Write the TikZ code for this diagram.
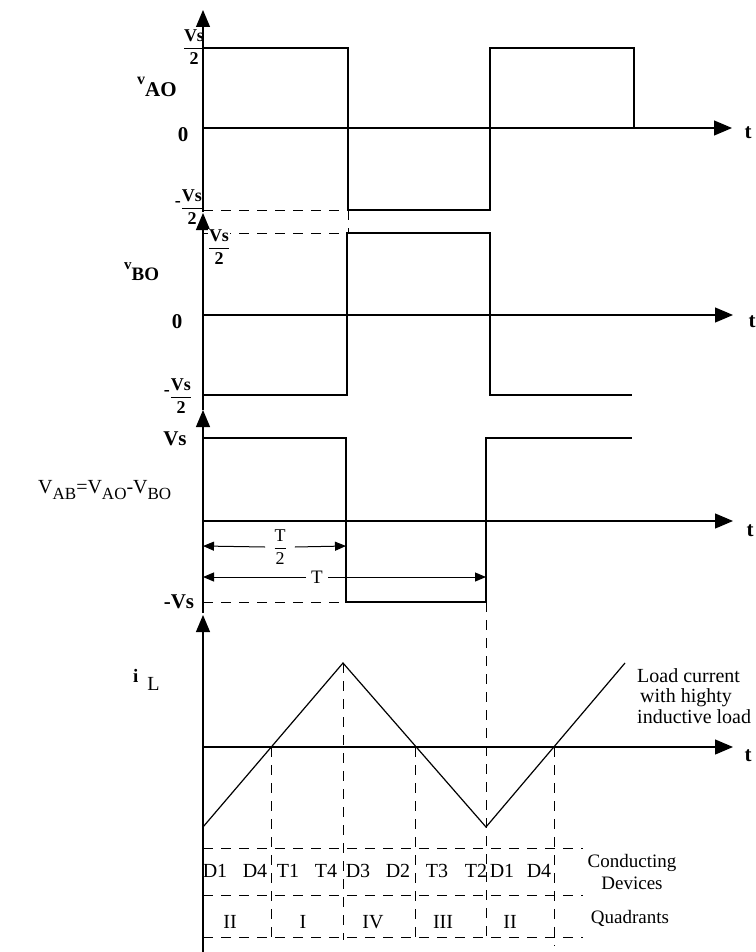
\documentclass[tikz,border=0pt]{standalone}
\usepackage{amsmath}
\usepackage{fontspec}
\setmainfont{Liberation Serif}
\usetikzlibrary{arrows.meta}
\newcommand{\fsz}[1]{\fontsize{#1}{#1}\selectfont}
\newcommand{\lowsub}[1]{\raisebox{-6pt}{\fsz{17}#1}}
\begin{document}
\begin{tikzpicture}[x=1pt,y=-1pt,
  sig/.style={line width=1.2pt, line join=miter},
  dsh/.style={line width=1pt, dash pattern=on 10pt off 8pt},
  vaxis/.style={line width=1.2pt, -{Triangle[length=17pt,width=14pt]}},
  haxis/.style={line width=1.2pt, -{Triangle[length=18pt,width=15pt]}},
  dimarr/.style={line width=1pt, -{Triangle[length=11pt,width=9pt]}},
  txt/.style={font=\fsz{20}, inner sep=0pt},
  btxt/.style={font=\fsz{21}\bfseries, inner sep=0pt},
  fracl/.style={font=\fsz{18}\bfseries, inner sep=0pt},
]
\useasboundingbox (0,0) rectangle (755,952);

% ---------- coordinates ----------
\coordinate (A1b) at (203,212); \coordinate (A1t) at (203,10);
\coordinate (A2b) at (203,410); \coordinate (A2t) at (203,213);
\coordinate (A3b) at (203,613); \coordinate (A3t) at (203,410);
\coordinate (A4b) at (203,952); \coordinate (A4t) at (203,615);
\coordinate (Z1) at (203,128); \coordinate (Z1e) at (732,128);
\coordinate (Z2) at (203,315); \coordinate (Z2e) at (733,315);
\coordinate (Z3) at (203,521); \coordinate (Z3e) at (733,521);
\coordinate (Z4) at (203,747); \coordinate (Z4e) at (733,747);

% ---------- plot 1 : v_AO ----------
\draw[vaxis] (A1b) -- (A1t);
\draw[haxis] (Z1) -- (Z1e);
\draw[sig] (203,48) -- (348,48) -- (348,210) -- (490,210) -- (490,48) -- (634,48) -- (634,128);
\draw[dsh] (203,210) -- (348,210);
\draw[dsh] (348,210) -- (348,233);
\node[btxt, anchor=base west] (vao) at (137,97) {\raisebox{12pt}{\fsz{16}v}AO};
\node[btxt] (z1) at (183,135) {0};
\node[fracl] (p1) at (194,47) {$\dfrac{\textbf{Vs}}{\textbf{2}}$};
\node[fracl] (m1) at (189,207) {\raisebox{6pt}{-}$\dfrac{\textbf{Vs}}{\textbf{2}}$};
\node[btxt] (t1) at (748,133) {t};

% ---------- plot 2 : v_BO ----------
\draw[vaxis] (A2b) -- (A2t);
\draw[haxis] (Z2) -- (Z2e);
\draw[sig] (203,395) -- (347,395) -- (347,233) -- (490,233) -- (490,395) -- (632,395);
\draw[dsh] (203,233) -- (347,233);
\node[btxt, anchor=base west] (vbo) at (124,280) {\raisebox{11pt}{\fsz{15}v}\fsz{19}BO};
\node[btxt] (z2) at (177,322) {0};
\node[fracl, fill=white] (p2) at (219,247) {$\dfrac{\textbf{Vs}}{\textbf{2}}$};
\node[fracl] (m2) at (178,396) {\raisebox{6pt}{-}$\dfrac{\textbf{Vs}}{\textbf{2}}$};
\node[btxt] (t2) at (752,322) {t};

% ---------- plot 3 : v_AB ----------
\draw[vaxis] (A3b) -- (A3t);
\draw[haxis] (Z3) -- (Z3e);
\draw[sig] (203,438) -- (346,438) -- (346,602) -- (486,602) -- (486,438) -- (632,438);
\draw[dsh] (203,602) -- (346,602);
\node[btxt] (vs3) at (175,439) {Vs};
\node[btxt] (mvs3) at (179,602) {-Vs};
\node[txt, anchor=base west] (vab) at (38,493) {V\lowsub{AB}=V\lowsub{AO}-V\lowsub{BO}};
\node[btxt] (t3) at (750,531) {t};
\coordinate (hl) at (203,546); \coordinate (hr) at (346,546);
\node[txt, font=\fsz{18}, inner xsep=8pt] (half) at (280,547) {$\dfrac{\text{T}}{\text{2}}$};
\draw[dimarr] (half.west) -- (hl);
\draw[dimarr] (half.east) -- (hr);
\coordinate (pl) at (203,577); \coordinate (pr) at (486,577);
\node[txt, font=\fsz{19}, inner xsep=5pt] (per) at (317,577) {T};
\draw[dimarr] (per.west) -- (pl);
\draw[dimarr] (per.east) -- (pr);

% ---------- plot 4 : i_L ----------
\draw[vaxis] (A4b) -- (A4t);
\draw[haxis] (Z4) -- (Z4e);
\coordinate (i0) at (203,827); \coordinate (ipk) at (343,663);
\coordinate (itr) at (486,827); \coordinate (iend) at (625,663);
\coordinate (c1) at (271,747); \coordinate (c2) at (415,747); \coordinate (c3) at (554,747);
\draw[sig] (i0) -- (ipk) -- (itr) -- (iend);
\draw[dsh] (c1) -- (271,940);
\draw[dsh] (ipk) -- (343,940);
\draw[dsh] (c2) -- (415,943);
\draw[dsh] (486,602) -- (486,940);
\draw[dsh] (c3) -- (554,946);
\draw[dsh] (203,848) -- (583,848);
\draw[dsh] (203,895) -- (583,895);
\draw[dsh] (203,937) -- (583,937);
\node[anchor=base west, inner sep=0pt] (il) at (133,682) {\fsz{19}\textbf{i}\hspace{9pt}\raisebox{-8pt}{\fsz{20}L}};
\node[btxt] (t4) at (748,756) {t};
\node[txt, anchor=base west] (lc1) at (637,682) {Load current};
\node[txt, anchor=base west] (lc2) at (640,702) {with highty};
\node[txt, anchor=base west] (lc3) at (637,723) {inductive load};

% device labels
\foreach \x/\s [count=\i] in {215/D1,255/D4,288/T1,326/T4,358/D3,398/D2,437/T3,476/T2,502/D1,539/D4}
  \node[txt, anchor=base] (dev\i) at (\x,877) {\s};
\foreach \x/\s [count=\i] in {230/II,303/I,373/IV,443/III,510/II}
  \node[txt, anchor=base] (q\i) at (\x,928) {\s};
\node[txt, font=\fsz{19}, anchor=base] (cond) at (632,867) {Conducting};
\node[txt, font=\fsz{19}, anchor=base] (devs) at (632,889) {Devices};
\node[txt, font=\fsz{19}, anchor=base] (quad) at (630,923) {Quadrants};
\end{tikzpicture}
\end{document}
